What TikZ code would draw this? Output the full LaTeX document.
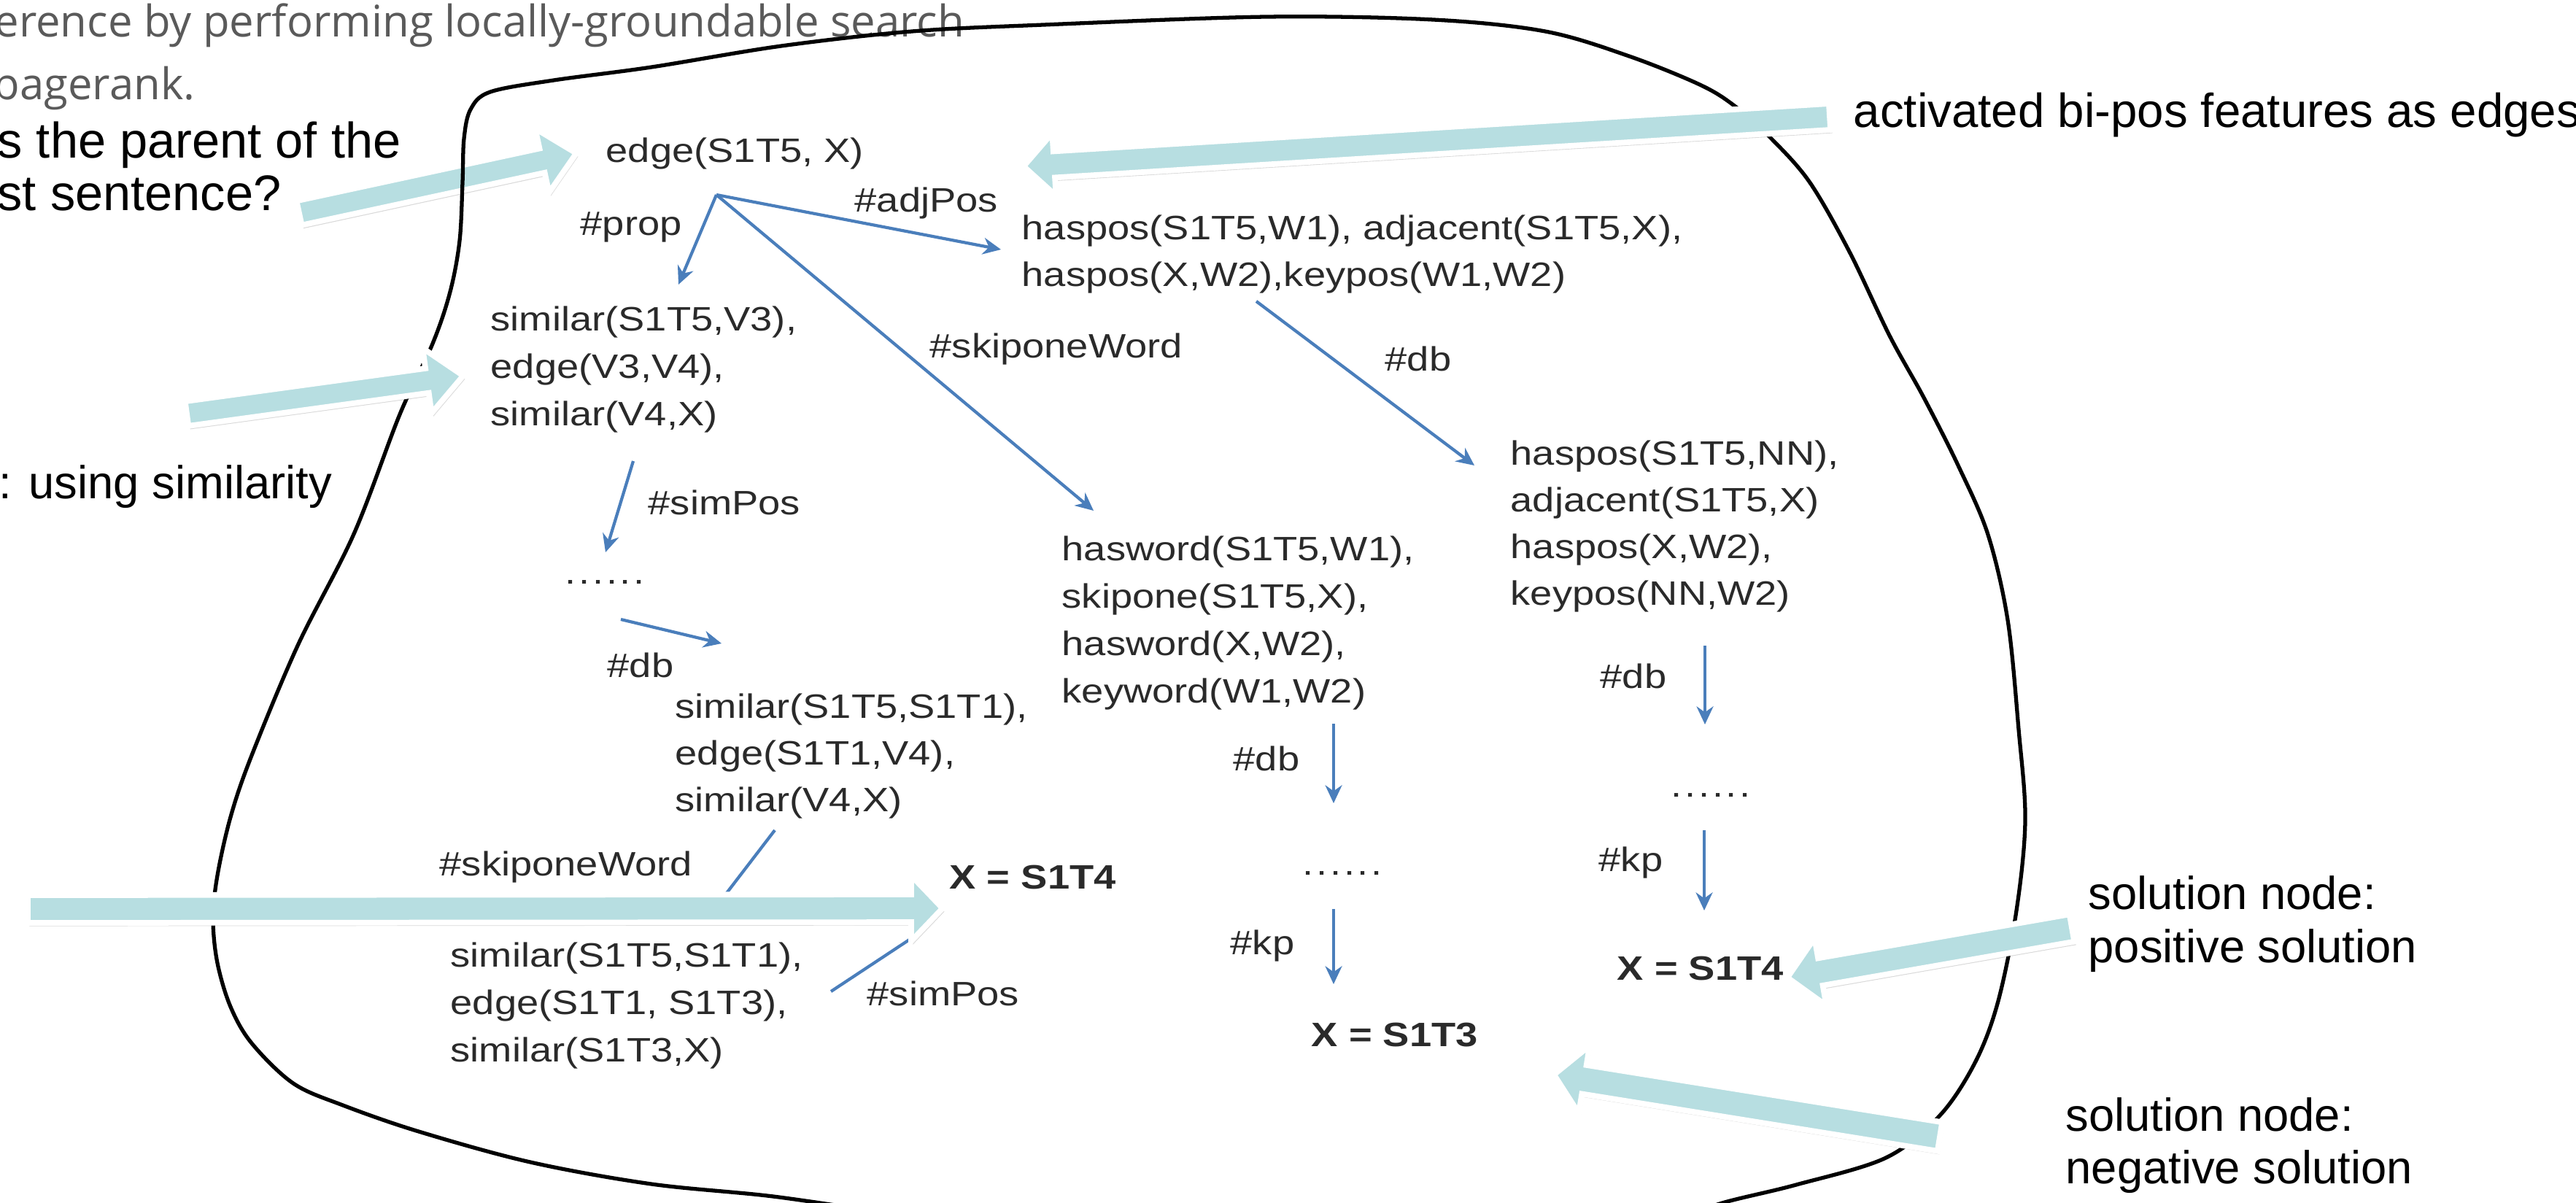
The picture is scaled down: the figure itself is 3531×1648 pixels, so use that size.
\documentclass[tikz,border=0pt]{standalone}
\usepackage{fontspec}
\usepackage{graphicx}
\setmainfont{Liberation Sans}
\newfontfamily\grayfont{Open Sans}
\usetikzlibrary{arrows.meta,calc,shadows}
\definecolor{cyanfill}{HTML}{B7DEE1}
\definecolor{linkblue}{HTML}{4A7EBB}
\definecolor{graytext}{HTML}{5A5A5A}
\definecolor{graphtext}{HTML}{2A2A2A}
\newcommand{\gt}[1]{\scalebox{1.17}[1]{\begin{tabular}[t]{@{}l@{}}#1\end{tabular}}}
\newcommand{\atab}[1]{\begin{tabular}[t]{@{}l@{}}#1\end{tabular}}
\newcommand{\sixdots}{.\kern0.9pt.\kern0.9pt.\kern0.9pt.\kern0.9pt.\kern0.9pt.}
\newcommand{\fatarrow}[6]{%
  \coordinate (#1-b) at ($(#3)!#6!(#2)$);
  \path[fatstyle] ($(#2)!#4!90:(#3)$) -- ($(#1-b)!#4!-90:(#2)$) -- ($(#1-b)!#5!-90:(#2)$) -- (#3)
     -- ($(#1-b)!#5!90:(#2)$) -- ($(#1-b)!#4!90:(#2)$) -- ($(#2)!#4!-90:(#3)$) -- cycle;
}
\tikzset{
  gtext/.style={inner sep=0pt, anchor=base west, text=graphtext, font=\fontsize{13.2}{18.2}\selectfont},
  gtextwide/.style={gtext, font=\fontsize{13.2}{18.5}\selectfont},
  gtextb/.style={gtext, font=\fontsize{13.2}{18.2}\selectfont\bfseries},
  anno/.style={inner sep=0pt, anchor=base west, text=black, font=\fontsize{18}{21}\selectfont},
  slide/.style={inner sep=0pt, anchor=base west, text=graytext, font=\grayfont\fontsize{17}{20}\selectfont},
  bluelink/.style={draw=linkblue, line width=1.2pt, -{Stealth[length=7pt,width=6.5pt]}},
  blueline/.style={draw=linkblue, line width=1.2pt},
  fatstyle/.style={fill=cyanfill, draw=white, line width=2.2pt, line join=miter,
     drop shadow={shadow xshift=0.7pt, shadow yshift=-1.3pt, opacity=0.3}},
  blob/.style={draw=black, line width=1.5pt},
}
\begin{document}
\begin{tikzpicture}[x=0.01cm,y=-0.01cm]
\useasboundingbox (0,0) rectangle (3531,1648);
\clip (0,0) rectangle (3531,1648);
\fill[white] (0,0) rectangle (3531,1648);

% slide text (cut off at the top and left)
\node[slide] (g1) at (-8,50) {erence by performing locally-groundable search};
\node[slide] (g2) at (-10,136) {pagerank.};

% annotations
\node[anno, font=\fontsize{19.5}{22}\selectfont] (q1) at (-4,216) {s the parent of the};
\node[anno, font=\fontsize{19.5}{22}\selectfont] (q2) at (-4,288) {st sentence?};
\node[anno] (qsim) at (-2,683) {: using similarity};
\node[anno, font=\fontsize{18.6}{22}\selectfont] (act) at (2540,174) {activated bi-pos features as edges};
\node[anno] (posn) at (2862,1246) {\atab{solution node:\\positive solution}};
\node[anno, font=\fontsize{18}{20.5}\selectfont] (negn) at (2831,1550) {\atab{solution node:\\negative solution}};

% fat arrow over which the blob line passes
\coordinate (a1t) at (410,292); \coordinate (a1h) at (790,210);
\fatarrow{a1}{a1t}{a1h}{0.17cm}{0.45cm}{0.48cm}

% blob
\draw[blob] plot[smooth, tension=0.55] coordinates {
 (1230,1665) (1060,1640) (893,1623) (727,1593) (574,1551) (470,1515) (402,1485) (345,1430)
 (316,1380) (298,1320) (292,1260) (298,1200) (316,1120) (344,1038) (408,885) (485,732)
 (548,568) (593,471) (617,400) (630,330) (634,250) (636,190) (645,150) (672,126) (759,110)
 (893,92) (1071,63) (1250,43) (1430,34) (1736,23) (1965,27) (2118,43) (2233,77) (2332,117)
 (2380,147) (2426,188) (2480,249) (2535,345) (2590,460) (2637,545) (2685,640) (2725,733)
 (2752,850) (2767,1000) (2776,1124) (2764,1248) (2739,1372) (2708,1455) (2659,1529)
 (2585,1587) (2462,1624) (2364,1648) (2300,1670)};

% graph text
\node[gtext] (e0) at (830,222) {\gt{edge(S1T5, X)}};
\node[gtext] (lprop) at (795,322) {\gt{\#prop}};
\node[gtext] (ladj) at (1171,290) {\gt{\#adjPos}};
\node[gtext] (hp1) at (1400,328) {\gt{haspos(S1T5,W1), adjacent(S1T5,X),\\haspos(X,W2),keypos(W1,W2)}};
\node[gtextwide] (sim1) at (672,453) {\gt{similar(S1T5,V3),\\edge(V3,V4),\\similar(V4,X)}};
\node[gtext] (lskip1) at (1274,490) {\gt{\#skiponeWord}};
\node[gtext] (ldb1) at (1898,508) {\gt{\#db}};
\node[gtext] (hp2) at (2070,637) {\gt{haspos(S1T5,NN),\\adjacent(S1T5,X)\\haspos(X,W2),\\keypos(NN,W2)}};
\node[gtext] (lsim1) at (888,705) {\gt{\#simPos}};
\node[gtext] (dots1) at (774,800) {\gt{\sixdots}};
\node[gtextwide] (hw) at (1455,768) {\gt{hasword(S1T5,W1),\\skipone(S1T5,X),\\hasword(X,W2),\\keyword(W1,W2)}};
\node[gtext] (ldb2) at (832,928) {\gt{\#db}};
\node[gtext] (sim2) at (925,984) {\gt{similar(S1T5,S1T1),\\edge(S1T1,V4),\\similar(V4,X)}};
\node[gtext] (ldb3) at (2193,943) {\gt{\#db}};
\node[gtext] (ldb4) at (1690,1056) {\gt{\#db}};
\node[gtext] (dots3) at (2290,1092) {\gt{\sixdots}};
\node[gtext] (lkp1) at (2191,1194) {\gt{\#kp}};
\node[gtext] (lskip2) at (602,1200) {\gt{\#skiponeWord}};
\node[gtextb] (xa) at (1301,1218) {\gt{X = S1T4}};
\node[gtext] (dots2) at (1785,1199) {\gt{\sixdots}};
\node[gtext] (lkp2) at (1686,1308) {\gt{\#kp}};
\node[gtextb] (xb) at (2216,1343) {\gt{X = S1T4}};
\node[gtextwide] (sim3) at (617,1325) {\gt{similar(S1T5,S1T1),\\edge(S1T1, S1T3),\\similar(S1T3,X)}};
\node[gtext] (lsim2) at (1188,1378) {\gt{\#simPos}};
\node[gtextb] (xc) at (1797,1434) {\gt{X = S1T3}};

% connector end points
\coordinate (src) at (982,267);
\coordinate (propT) at (930,390);
\coordinate (adjT) at (1372,342);
\coordinate (skipT) at (1499,700);
\coordinate (db1S) at (1722,413); \coordinate (db1T) at (2021,638);
\coordinate (spS) at (868,632); \coordinate (spT) at (830,757);
\coordinate (db2S) at (851,849); \coordinate (db2T) at (989,882);
\coordinate (db3S) at (2337,885); \coordinate (db3T) at (2337,993);
\coordinate (db4S) at (1828,992); \coordinate (db4T) at (1828,1101);
\coordinate (kp1S) at (2336,1138); \coordinate (kp1T) at (2336,1248);
\coordinate (kp2S) at (1828,1246); \coordinate (kp2T) at (1828,1349);
\coordinate (sk2S) at (1062,1138); \coordinate (sk2T) at (993,1228);
\coordinate (sp2S) at (1139,1359); \coordinate (sp2T) at (1248,1287);

\draw[bluelink] (src) -- (propT);
\draw[bluelink] (src) -- (adjT);
\draw[bluelink] (src) -- (skipT);
\draw[bluelink] (db1S) -- (db1T);
\draw[bluelink] (spS) -- (spT);
\draw[bluelink] (db2S) -- (db2T);
\draw[bluelink] (db3S) -- (db3T);
\draw[bluelink] (db4S) -- (db4T);
\draw[bluelink] (kp1S) -- (kp1T);
\draw[bluelink] (kp2S) -- (kp2T);
\draw[blueline] (sk2S) -- (sk2T);
\draw[blueline] (sp2S) -- (sp2T);

% remaining fat arrows
\coordinate (a2t) at (2508,160); \coordinate (a2h) at (1403,228);
\fatarrow{a2}{a2t}{a2h}{0.18cm}{0.43cm}{0.42cm}
\coordinate (a3t) at (256,567); \coordinate (a3h) at (635,515);
\fatarrow{a3}{a3t}{a3h}{0.17cm}{0.45cm}{0.50cm}
\coordinate (a4t) at (38,1246); \coordinate (a4h) at (1292,1245);
\fatarrow{a4}{a4t}{a4h}{0.19cm}{0.45cm}{0.43cm}
\coordinate (a5t) at (2840,1272); \coordinate (a5h) at (2450,1340);
\fatarrow{a5}{a5t}{a5h}{0.19cm}{0.47cm}{0.46cm}
\coordinate (a6t) at (2659,1558); \coordinate (a6h) at (2130,1473);
\fatarrow{a6}{a6t}{a6h}{0.2cm}{0.47cm}{0.42cm}
\end{tikzpicture}
\end{document}
